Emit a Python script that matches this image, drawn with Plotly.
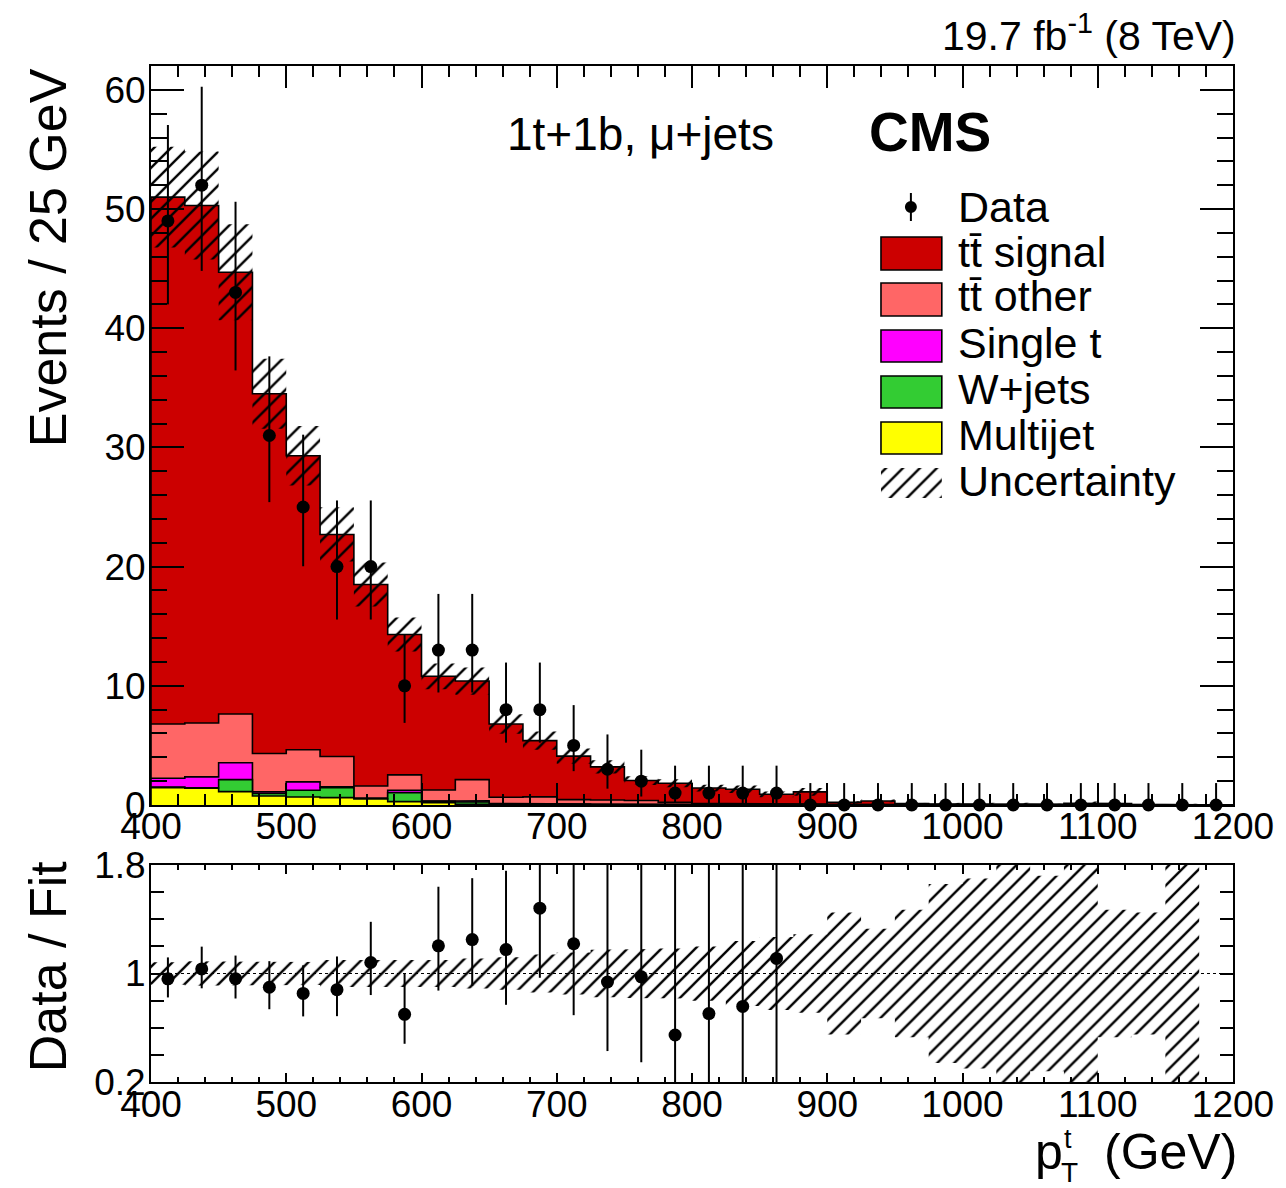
import numpy as np
import plotly.graph_objects as go

# ---------------------------------------------------------------
# Binning: 25 GeV bins in top-quark pT between 400 and 1200 GeV
# ---------------------------------------------------------------
pt_min = 400
pt_max = 1200
bin_width = 25

# Observed data counts per bin
data_counts = [49, 52, 43, 31, 25, 20, 20, 10, 13, 13, 8, 8, 5, 3, 2, 1,
               1, 1, 1, 0, 0, 0, 0, 0, 0, 0, 0, 0, 0, 0, 0, 0]
# Poisson (Garwood) uncertainties on the data
data_err_up = [8.05, 8.26, 7.61, 6.64, 6.07, 5.55, 5.55, 4.27, 4.71, 4.71,
               3.95, 3.95, 3.38, 2.92, 2.64, 2.30, 2.30, 2.30, 2.30, 1.84,
               1.84, 1.84, 1.84, 1.84, 1.84, 1.84, 1.84, 1.84, 1.84, 1.84,
               1.84, 1.84]
data_err_dn = [7.00, 7.19, 6.54, 5.59, 4.97, 4.44, 4.44, 3.11, 3.56, 3.56,
               2.77, 2.77, 2.16, 1.63, 1.29, 0.83, 0.83, 0.83, 0.83, 0.0,
               0.0, 0.0, 0.0, 0.0, 0.0, 0.0, 0.0, 0.0, 0.0, 0.0, 0.0, 0.0]

# Fitted yields per process
multijet = [1.46, 1.40, 1.12, 0.76, 0.67, 0.62, 0.50, 0.28, 0.20, 0.06,
            0.05, 0.04, 0.03, 0.02, 0.02, 0.01, 0.00, 0.00, 0.00, 0.00,
            0.00, 0.00, 0.00, 0.00, 0.00, 0.00, 0.00, 0.00, 0.00, 0.00,
            0.00, 0.00]
wjets = [0.04, 0.05, 1.01, 0.20, 0.57, 0.84, 0.03, 0.76, 0.10, 0.19,
         0.05, 0.04, 0.02, 0.02, 0.01, 0.01, 0.01, 0.01, 0.00, 0.00,
         0.00, 0.00, 0.00, 0.00, 0.00, 0.05, 0.00, 0.00, 0.00, 0.00,
         0.00, 0.00]
single_t = [0.75, 0.91, 1.41, 0.14, 0.70, 0.06, 0.05, 0.20, 0.04, 0.10,
            0.04, 0.04, 0.03, 0.02, 0.02, 0.01, 0.01, 0.01, 0.01, 0.01,
            0.00, 0.00, 0.00, 0.00, 0.00, 0.00, 0.00, 0.00, 0.00, 0.00,
            0.00, 0.00]
tt_other = [4.55, 4.52, 4.10, 3.22, 2.69, 2.55, 1.02, 1.29, 0.92, 1.78,
            0.51, 0.56, 0.37, 0.36, 0.33, 0.19, 0.10, 0.10, 0.09, 0.07,
            0.05, 0.05, 0.03, 0.02, 0.02, 0.01, 0.02, 0.08, 0.06, 0.02,
            0.02, 0.00]
tt_signal = [44.20, 43.42, 37.06, 30.18, 24.67, 18.63, 16.90, 11.77, 9.54, 8.27,
             6.15, 4.72, 3.65, 2.78, 1.67, 1.61, 1.30, 1.20, 0.80, 1.02,
             0.17, 0.29, 0.09, 0.06, 0.06, 0.04, 0.04, 0.07, 0.06, 0.03,
             0.03, 0.00]
# Relative total uncertainty of the fitted prediction
rel_unc = [0.083, 0.090, 0.090, 0.085, 0.085, 0.100, 0.100, 0.100, 0.100, 0.110,
           0.120, 0.140, 0.155, 0.175, 0.180, 0.185, 0.200, 0.240, 0.270, 0.290,
           0.450, 0.330, 0.470, 0.660, 0.700, 0.900, 0.720, 0.900, 0.470, 0.450,
           0.900, 0.000]

x_ticks = [400, 500, 600, 700, 800, 900, 1000, 1100, 1200]
ratio_ticks = [0.2, 0.4, 0.6, 0.8, 1.0, 1.2, 1.4, 1.6, 1.8]
ratio_ticktext = ["0.2", " ", " ", " ", "1", " ", " ", " ", "1.8"]

# ---------------------------------------------------------------
# Derived quantities
# ---------------------------------------------------------------
n_bins = len(data_counts)
edges = pt_min + bin_width * np.arange(n_bins + 1)
centers = 0.5 * (edges[:-1] + edges[1:])

stack_order = [
    ("Multijet", multijet, "#FFFF00"),
    ("W+jets", wjets, "#33CC33"),
    ("Single t", single_t, "#FF00FF"),
    ("tt\u0304 other", tt_other, "#FF6666"),
    ("tt\u0304 signal", tt_signal, "#CC0000"),
]
cumulative = []
running = np.zeros(n_bins)
for name, vals, col in stack_order:
    running = running + np.asarray(vals)
    cumulative.append((name, running.copy(), col))
total = cumulative[-1][1]

data = np.asarray(data_counts, dtype=float)
err_up = np.asarray(data_err_up)
err_dn = np.asarray(data_err_dn)
rel = np.asarray(rel_unc)


def step_path(values):
    xs, ys = [edges[0]], [0.0]
    for i, v in enumerate(values):
        xs += [edges[i], edges[i + 1]]
        ys += [v, v]
    xs.append(edges[-1])
    ys.append(0.0)
    return xs, ys


def band_path(lo, hi, nb):
    xs, ys = [], []
    for i in range(nb):
        xs += [edges[i], edges[i + 1]]
        ys += [hi[i], hi[i]]
    for i in reversed(range(nb)):
        xs += [edges[i + 1], edges[i]]
        ys += [lo[i], lo[i]]
    xs.append(xs[0])
    ys.append(ys[0])
    return xs, ys


# ---------------------------------------------------------------
# Page geometry (pixels) used for the frame and the legend block
# ---------------------------------------------------------------
W, H = 1286, 1188
PL, PR = 151, 1236          # left / right of the plotting frame
MAIN_T, MAIN_B = 66, 805    # main pad
RAT_T, RAT_B = 865, 1082    # ratio pad
YMAX = 62.0


def px_to_paper_x(px):
    return (px - PL) / (PR - PL)


def px_to_paper_y(py):
    return (RAT_B - py) / (RAT_B - MAIN_T)


def px_to_data_x(px):
    return pt_min + (px - PL) * (pt_max - pt_min) / (PR - PL)


def px_to_data_y(py):
    return (MAIN_B - py) * YMAX / (MAIN_B - MAIN_T)


FONT = "Liberation Sans, Arial, Helvetica, sans-serif"
hatch = dict(shape="/", fgcolor="black", bgcolor="rgba(0,0,0,0)",
             fgopacity=1, size=12, solidity=0.2)

fig = go.Figure()

# Stacked histograms, drawn from the top of the stack down
for name, cum, col in reversed(cumulative):
    xs, ys = step_path(cum)
    fig.add_trace(go.Scatter(
        x=xs, y=ys, mode="lines", fill="tozeroy", fillcolor=col,
        line=dict(color="black", width=1.6), name=name,
        xaxis="x", yaxis="y", hoverinfo="skip"))

# Uncertainty band on the prediction
nb_unc = int(np.count_nonzero(total > 0))
bx, by = band_path(total * (1 - rel), total * (1 + rel), nb_unc)
fig.add_trace(go.Scatter(
    x=bx, y=by, mode="lines", fill="toself", fillcolor="rgba(0,0,0,0)",
    fillpattern=hatch, line=dict(width=0, color="rgba(0,0,0,0)"),
    name="Uncertainty", xaxis="x", yaxis="y", hoverinfo="skip"))

# Data points
fig.add_trace(go.Scatter(
    x=centers, y=data, mode="markers",
    marker=dict(color="black", size=13),
    error_y=dict(type="data", symmetric=False, array=err_up,
                 arrayminus=err_dn, color="black", thickness=2, width=0),
    cliponaxis=False, name="Data", xaxis="x", yaxis="y"))

# Ratio panel: band around unity and data / fit
rx, ry = band_path(1 - rel, 1 + rel, nb_unc)
fig.add_trace(go.Scatter(
    x=rx, y=ry, mode="lines", fill="toself", fillcolor="rgba(0,0,0,0)",
    fillpattern=hatch, line=dict(width=0, color="rgba(0,0,0,0)"),
    xaxis="x2", yaxis="y2", hoverinfo="skip"))

has_data = data > 0
ratio = data[has_data] / total[has_data]
fig.add_trace(go.Scatter(
    x=centers[has_data], y=ratio, mode="markers",
    marker=dict(color="black", size=13),
    error_y=dict(type="data", symmetric=False,
                 array=err_up[has_data] / total[has_data],
                 arrayminus=err_dn[has_data] / total[has_data],
                 color="black", thickness=2, width=0),
    xaxis="x2", yaxis="y2"))

fig.add_shape(type="line", xref="x2", yref="y2", x0=pt_min, x1=pt_max,
              y0=1, y1=1, line=dict(color="black", width=1.2, dash="dot"))

# ---------------------------------------------------------------
# Legend block
# ---------------------------------------------------------------
LEG_BOX_L, LEG_BOX_R, LEG_TEXT_X = 883, 944, 958
leg_font = dict(family=FONT, size=43, color="black")

# Data entry: marker with vertical error bar
mx, my = 913, 207
fig.add_shape(type="line", xref="paper", yref="paper",
              x0=px_to_paper_x(mx), x1=px_to_paper_x(mx),
              y0=px_to_paper_y(my - 14), y1=px_to_paper_y(my + 14),
              line=dict(color="black", width=2))
fig.add_shape(type="circle", xref="paper", yref="paper",
              x0=px_to_paper_x(mx - 6), x1=px_to_paper_x(mx + 6),
              y0=px_to_paper_y(my - 6), y1=px_to_paper_y(my + 6),
              fillcolor="black", line=dict(color="black", width=0))
fig.add_annotation(text="Data", xref="paper", yref="paper",
                   x=px_to_paper_x(LEG_TEXT_X), y=px_to_paper_y(my),
                   xanchor="left", yanchor="middle", showarrow=False,
                   font=leg_font)

legend_rows = [
    ("tt\u0304 signal", "#CC0000", 237, 270, 252),
    ("tt\u0304 other", "#FF6666", 283, 316, 296),
    ("Single t", "#FF00FF", 330, 362, 343),
    ("W+jets", "#33CC33", 376, 408, 389),
    ("Multijet", "#FFFF00", 422, 454, 435),
]
for label, col, top, bot, ty in legend_rows:
    fig.add_shape(type="rect", xref="paper", yref="paper",
                  x0=px_to_paper_x(LEG_BOX_L), x1=px_to_paper_x(LEG_BOX_R),
                  y0=px_to_paper_y(bot), y1=px_to_paper_y(top),
                  fillcolor=col, line=dict(color="black", width=1.6))
    fig.add_annotation(text=label, xref="paper", yref="paper",
                       x=px_to_paper_x(LEG_TEXT_X), y=px_to_paper_y(ty),
                       xanchor="left", yanchor="middle", showarrow=False,
                       font=leg_font)

# Uncertainty entry: hatched swatch
ux0, ux1 = px_to_data_x(LEG_BOX_L), px_to_data_x(LEG_BOX_R)
uy0, uy1 = px_to_data_y(498), px_to_data_y(468)
fig.add_trace(go.Scatter(
    x=[ux0, ux1, ux1, ux0, ux0], y=[uy0, uy0, uy1, uy1, uy0],
    mode="lines", fill="toself", fillcolor="rgba(0,0,0,0)",
    fillpattern=hatch, line=dict(width=0, color="rgba(0,0,0,0)"),
    xaxis="x", yaxis="y", hoverinfo="skip"))
fig.add_annotation(text="Uncertainty", xref="paper", yref="paper",
                   x=px_to_paper_x(LEG_TEXT_X), y=px_to_paper_y(481),
                   xanchor="left", yanchor="middle", showarrow=False,
                   font=leg_font)

# ---------------------------------------------------------------
# Labels
# ---------------------------------------------------------------
fig.add_annotation(text="19.7 fb<sup>-1</sup> (8 TeV)", xref="paper",
                   yref="paper", x=px_to_paper_x(1241),
                   y=px_to_paper_y(33), xanchor="right", yanchor="middle",
                   showarrow=False,
                   font=dict(family=FONT, size=41, color="black"))
fig.add_annotation(text="1t+1b, \u03bc+jets", xref="paper", yref="paper",
                   x=px_to_paper_x(506), y=px_to_paper_y(134),
                   xanchor="left", yanchor="middle", showarrow=False,
                   font=dict(family=FONT, size=46, color="black"))
fig.add_annotation(text="<b>CMS</b>", xref="paper", yref="paper",
                   x=px_to_paper_x(869), y=px_to_paper_y(132),
                   xanchor="left", yanchor="middle", showarrow=False,
                   font=dict(family=FONT, size=55, color="black"))

fig.add_annotation(text="Events / 25 GeV", xref="paper", yref="paper",
                   x=px_to_paper_x(48), y=px_to_paper_y(258),
                   xanchor="center", yanchor="middle", textangle=-90,
                   showarrow=False,
                   font=dict(family=FONT, size=52, color="black"))
fig.add_annotation(text="Data / Fit", xref="paper", yref="paper",
                   x=px_to_paper_x(48), y=px_to_paper_y(967),
                   xanchor="center", yanchor="middle", textangle=-90,
                   showarrow=False,
                   font=dict(family=FONT, size=52, color="black"))

# x-axis title: p_T^t (GeV)
fig.add_annotation(text="(GeV)", xref="paper", yref="paper",
                   x=px_to_paper_x(1242), y=px_to_paper_y(1152),
                   xanchor="right", yanchor="middle", showarrow=False,
                   font=dict(family=FONT, size=50, color="black"))
fig.add_annotation(text="p", xref="paper", yref="paper",
                   x=px_to_paper_x(1035), y=px_to_paper_y(1152),
                   xanchor="left", yanchor="middle", showarrow=False,
                   font=dict(family=FONT, size=50, color="black"))
fig.add_annotation(text="t", xref="paper", yref="paper",
                   x=px_to_paper_x(1065), y=px_to_paper_y(1139),
                   xanchor="left", yanchor="middle", showarrow=False,
                   font=dict(family=FONT, size=27, color="black"))
fig.add_annotation(text="T", xref="paper", yref="paper",
                   x=px_to_paper_x(1062), y=px_to_paper_y(1172),
                   xanchor="left", yanchor="middle", showarrow=False,
                   font=dict(family=FONT, size=28, color="black"))

# ---------------------------------------------------------------
# Axes
# ---------------------------------------------------------------
main_dom = [px_to_paper_y(MAIN_B), 1.0]
rat_dom = [0.0, px_to_paper_y(RAT_T)]
tick_font = dict(family=FONT, size=37, color="black")
common = dict(showline=True, linecolor="black", linewidth=2,
              mirror="allticks", ticks="inside", tickcolor="black",
              tickwidth=1.6, showgrid=False, zeroline=False,
              tickfont=tick_font)

fig.update_layout(
    width=W, height=H,
    margin=dict(l=PL, r=W - PR, t=MAIN_T, b=H - RAT_B),
    paper_bgcolor="white", plot_bgcolor="white",
    showlegend=False,
    font=dict(family=FONT, color="black"),
    xaxis=dict(domain=[0, 1], anchor="y", range=[pt_min, pt_max],
               tickmode="array", tickvals=x_ticks, ticklen=22,
               ticklabelstandoff=-12,
               minor=dict(ticks="inside", ticklen=11, dtick=20, tick0=400,
                          tickcolor="black", tickwidth=1.6, showgrid=False),
               **common),
    yaxis=dict(domain=main_dom, anchor="x", range=[0, YMAX],
               tickmode="linear", tick0=0, dtick=10, ticklen=33,
               ticklabelstandoff=-4,
               minor=dict(ticks="inside", ticklen=16, dtick=2, tick0=0,
                          tickcolor="black", tickwidth=1.6, showgrid=False),
               **common),
    xaxis2=dict(domain=[0, 1], anchor="y2", range=[pt_min, pt_max],
                tickmode="array", tickvals=x_ticks, ticklen=9,
                ticklabelstandoff=-11,
                minor=dict(ticks="inside", ticklen=5, dtick=20, tick0=400,
                           tickcolor="black", tickwidth=1.6, showgrid=False),
                **common),
    yaxis2=dict(domain=rat_dom, anchor="x2", range=[0.2, 1.8],
                tickmode="array", tickvals=ratio_ticks,
                ticktext=ratio_ticktext, ticklen=13,
                ticklabelstandoff=-4,
                **common),
)

fig.write_html("out.html")
